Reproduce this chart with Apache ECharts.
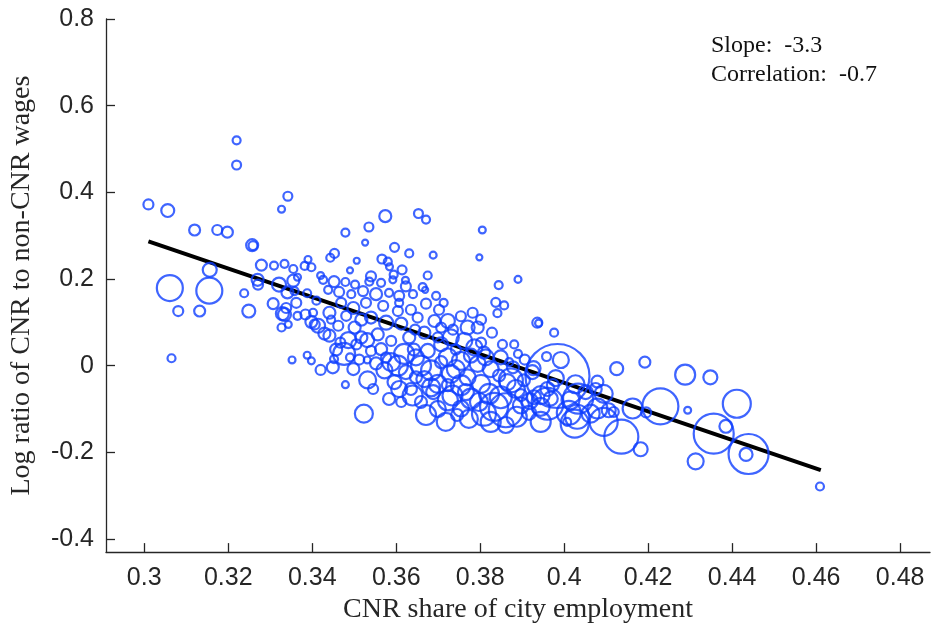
<!DOCTYPE html>
<html lang="en">
<head>
    <meta charset="UTF-8">
    <script src="https://cdn.jsdelivr.net/npm/echarts@6/dist/echarts.min.js"></script>
    <title>CNR wages vs employment share</title>
    <style>
        html, body { margin: 0; padding: 0; background: #fff; }
        #chart { width: 933px; height: 629px; }
    </style>
</head>
<body>
<div id="chart"></div>

<script>
    // city-level observations: CNR share of employment, log wage ratio, employment (sets circle size)
    const cityX = [
        0.3010,0.3056,0.3220,0.3220,0.3342,0.3327,0.3120,0.3174,0.3198,0.3257,
        0.3259,0.3156,0.3061,0.3155,0.3279,0.3309,0.3334,0.3355,0.3390,0.3382,
        0.3398,0.3270,0.3271,0.3321,0.3355,0.3365,0.3341,0.3358,0.3238,0.3388,
        0.3410,0.3081,0.3132,0.3249,0.3307,0.3329,0.3338,0.3343,0.3065,0.3352,
        0.3388,0.3398,0.3420,0.3384,0.3402,0.3406,0.3574,0.3653,0.3671,0.3535,
        0.3479,0.3526,0.3596,0.3631,0.3688,0.3453,0.3443,0.3506,0.3566,0.3580,
        0.3584,0.3614,0.3490,0.3420,0.3426,0.3452,0.3479,0.3502,0.3540,0.3536,
        0.3564,0.3594,0.3592,0.3622,0.3623,0.3675,0.3663,0.3669,0.3438,0.3464,
        0.3493,0.3521,0.3552,0.3583,0.3607,0.3640,0.3695,0.3713,0.3805,0.3798,
        0.3890,0.3844,0.3837,0.3857,0.3841,0.3782,0.3936,0.3939,0.3976,0.3853,
        0.3881,0.3890,0.3958,0.3992,0.3984,0.4125,0.4192,0.4288,0.4348,0.4163,
        0.4229,0.4195,0.4294,0.4411,0.4356,0.4385,0.4439,0.4433,0.4313,0.4182,
        0.4136,0.4094,0.4025,0.4079,0.4033,0.3960,0.4011,0.4118,0.4007,0.3873,
        0.3927,0.3869,0.3980,0.4027,0.4079,0.4075,0.4609,0.3973,0.3944,0.3918,
        0.3334,0.3327,0.3449,0.3452,0.3479,0.3523,0.3532,0.3531,0.3476,0.3531,
        0.3486,0.3467,0.3441,0.3429,0.3398,0.3414,0.3441,0.3501,0.3517,0.3564,
        0.3588,0.3604,0.3635,0.3639,0.3619,0.3659,0.3683,0.3699,0.3723,0.3556,
        0.3540,0.3576,0.3631,0.3667,0.3691,0.3651,0.3604,0.3675,0.3707,0.3596,
        0.3667,0.3572,0.3540,0.3505,0.3588,0.3723,0.3754,0.3802,0.3770,0.3794,
        0.3730,0.3762,0.3786,0.3809,0.3723,0.3754,0.3794,0.3730,0.3770,0.3802,
        0.3845,0.3865,0.3885,0.3904,0.3924,0.3734,0.3778,0.3821,0.3833,0.3861,
        0.3809,0.3754,0.3897,0.3928,0.3944,0.3960,0.3968,0.4015,0.4031,0.4063,
        0.4051,0.4094,0.4106,0.3699,0.3773,0.3887,0.3916,0.3745,0.3623,0.3647,
        0.3607,0.3707,0.3742,0.3688,0.3659,0.3612,0.3576,0.3552,0.3512,0.3498,
        0.3545,0.3583,0.3699,0.3642,0.3735,0.3828,0.3849,0.3825,0.3878,0.3906,
        0.3897,0.3802,0.3766,0.3723,0.3469,0.3498,0.3528,0.3569,0.3607,0.3635,
        0.3671,0.3702,0.3445,0.3481,0.3517,0.3612,0.3645,0.3707,0.3362,0.3365,
        0.3462,0.3490,0.3457,0.3671,0.3718,0.3825,0.3861,0.3944,0.3797,0.3849,
        0.3683,0.3754,0.3647,0.3742,0.3813,0.3778
    ];
    const cityY = [
        0.372,0.358,0.520,0.463,0.391,0.361,0.313,0.313,0.308,0.278,
        0.277,0.221,0.179,0.173,0.232,0.231,0.235,0.223,0.245,0.230,
        0.227,0.198,0.187,0.187,0.196,0.204,0.169,0.172,0.167,0.167,
        0.150,0.126,0.126,0.126,0.143,0.120,0.133,0.095,0.017,0.013,
        0.024,0.011,-0.010,0.118,0.122,0.095,0.345,0.351,0.337,0.320,
        0.307,0.284,0.273,0.259,0.255,0.259,0.249,0.242,0.246,0.240,
        0.228,0.221,0.220,0.208,0.198,0.194,0.193,0.187,0.206,0.194,
        0.191,0.210,0.198,0.197,0.183,0.208,0.181,0.175,0.175,0.170,
        0.165,0.172,0.165,0.168,0.161,0.165,0.161,0.145,0.313,0.250,
        0.199,0.186,0.146,0.139,0.121,0.122,0.099,0.098,0.076,0.049,
        0.049,0.027,0.021,0.013,-0.024,-0.007,0.008,-0.021,-0.027,-0.099,
        -0.094,-0.108,-0.103,-0.088,-0.157,-0.140,-0.204,-0.205,-0.221,-0.193,
        -0.164,-0.130,-0.134,-0.099,-0.076,-0.088,-0.109,-0.107,-0.130,-0.034,
        -0.006,0.008,-0.029,-0.043,-0.037,-0.054,-0.279,-0.045,-0.068,-0.082,
        0.118,0.088,-0.004,0.015,-0.044,-0.111,-0.033,0.013,0.027,0.059,
        0.059,0.053,0.069,0.074,0.101,0.092,0.122,0.088,0.065,0.038,
        0.008,0.000,-0.054,-0.069,0.027,0.000,-0.011,-0.042,-0.080,0.072,
        0.111,0.099,0.065,0.076,0.103,0.111,0.126,0.034,0.049,-0.038,
        -0.031,-0.011,0.034,0.049,0.057,0.103,0.114,0.106,0.088,0.088,
        0.065,0.057,0.042,0.030,0.019,0.011,0.004,-0.019,-0.027,-0.042,
        -0.023,-0.038,-0.054,-0.034,-0.015,-0.069,-0.076,-0.065,-0.095,-0.103,
        -0.111,-0.099,-0.092,-0.073,-0.095,-0.054,-0.076,-0.080,-0.118,-0.111,
        -0.061,-0.065,-0.103,-0.100,-0.123,-0.118,-0.109,-0.114,-0.015,-0.027,
        -0.054,0.008,0.037,-0.061,-0.084,-0.084,0.019,0.005,0.014,-0.008,
        -0.054,-0.077,0.065,0.037,0.083,0.076,0.019,-0.008,-0.004,0.014,
        -0.068,0.053,-0.061,-0.045,0.145,0.133,0.145,0.138,0.145,0.129,
        0.143,0.129,0.106,0.115,0.106,0.097,0.083,0.088,0.145,0.115,
        0.092,0.019,0.037,-0.114,-0.130,-0.130,-0.137,-0.130,-0.084,-0.073,
        -0.050,-0.045,0.019,-0.008,0.019,0.023
    ];
    const cityEmp = [
        25,42,16,20,20,12,30,25,30,36,
        20,49,169,169,30,16,16,16,12,16,
        16,36,25,49,36,12,36,16,16,16,
        16,25,30,42,30,42,25,12,16,12,
        12,12,25,25,16,25,36,20,16,20,
        16,9,20,16,12,20,16,9,20,16,
        12,20,9,12,16,30,16,16,25,16,
        16,16,12,12,25,16,16,9,16,25,
        16,25,36,16,25,16,16,16,12,9,
        12,16,20,16,16,25,25,12,16,20,
        16,16,20,64,1024,42,30,100,49,100,
        324,25,12,196,400,42,400,42,64,49,
        289,196,196,100,225,256,144,25,16,144,
        49,16,64,81,36,36,16,36,81,64,
        42,16,36,16,12,81,72,12,121,49,
        64,25,36,36,36,49,36,36,36,36,
        81,100,36,100,100,100,100,81,100,36,
        36,49,36,36,36,25,25,49,49,49,
        64,64,25,25,25,49,25,25,49,36,
        64,64,64,36,81,81,64,81,64,81,
        36,64,81,36,49,100,100,100,196,289,
        144,64,64,49,81,49,49,81,144,81,
        49,81,49,64,81,100,49,36,49,36,
        64,36,25,49,36,25,25,36,25,36,
        25,36,25,36,25,25,49,64,36,25,
        36,25,64,36,25,36,25,25,16,25,
        25,25,16,25,36,36,25,25,25,16,
        25,16,36,100,81,100,64,100,81,121,
        81,100,64,81,64,49
    ];

    // fitted line end points
    const fitX = [0.301, 0.4611];
    const fitY = [0.287, -0.241];

    const xTicks = [0.3, 0.32, 0.34, 0.36, 0.38, 0.4, 0.42, 0.44, 0.46, 0.48];
    const yTicks = [-0.4, -0.2, 0, 0.2, 0.4, 0.6, 0.8];

    const slopeText = 'Slope:  -3.3';
    const corrText = 'Correlation:  -0.7';

    const axisColor = '#262626';
    const dotColor = '#0f3fff';

    const points = cityX.map((x, i) => [x, cityY[i], cityEmp[i]]);
    const fmt = v => String(Number(v.toFixed(2)));

    const chart = echarts.init(document.getElementById('chart'), null, { renderer: 'canvas' });

    chart.setOption({
        animation: false,
        backgroundColor: '#ffffff',
        grid: { left: 104, right: 3, top: 19, bottom: 72, containLabel: false },
        xAxis: {
            type: 'value',
            min: 0.2909,
            max: 0.4871,
            name: 'CNR share of city employment',
            nameLocation: 'middle',
            nameGap: 43,
            nameTextStyle: { fontFamily: 'Liberation Serif', fontSize: 28, color: axisColor },
            axisLine: { show: true, onZero: false, lineStyle: { color: axisColor, width: 1.3 } },
            axisTick: { show: true, inside: true, length: 9, customValues: xTicks,
                lineStyle: { color: axisColor, width: 1.3 } },
            axisLabel: { customValues: xTicks, formatter: fmt, margin: 14,
                fontFamily: 'Liberation Sans', fontSize: 25, color: axisColor },
            splitLine: { show: false }
        },
        yAxis: {
            type: 'value',
            min: -0.4304,
            max: 0.8,
            name: 'Log ratio of CNR to non-CNR wages',
            nameLocation: 'middle',
            nameGap: 70,
            nameTextStyle: { fontFamily: 'Liberation Serif', fontSize: 28, color: axisColor },
            axisLine: { show: true, onZero: false, lineStyle: { color: axisColor, width: 1.3 } },
            axisTick: { show: true, inside: true, length: 9, customValues: yTicks,
                lineStyle: { color: axisColor, width: 1.3 } },
            axisLabel: { customValues: yTicks, formatter: fmt, margin: 12,
                fontFamily: 'Liberation Sans', fontSize: 25, color: axisColor },
            splitLine: { show: false }
        },
        graphic: [{
            type: 'text',
            left: 711,
            top: 31,
            style: {
                text: slopeText + '\n' + corrText,
                fontFamily: 'Liberation Serif',
                fontSize: 24,
                lineHeight: 29,
                fill: '#111'
            }
        }],
        series: [{
            type: 'line',
            z: 1,
            data: [[fitX[0], fitY[0]], [fitX[1], fitY[1]]],
            symbol: 'none',
            lineStyle: { color: '#000', width: 4 }
        }, {
            type: 'scatter',
            z: 2,
            data: points,
            symbol: 'circle',
            symbolSize: d => 2 * Math.sqrt(d[2]),
            itemStyle: { color: 'rgba(0,0,0,0)', borderColor: dotColor, borderWidth: 2.2 }
        }]
    });
</script>
</body>
</html>
